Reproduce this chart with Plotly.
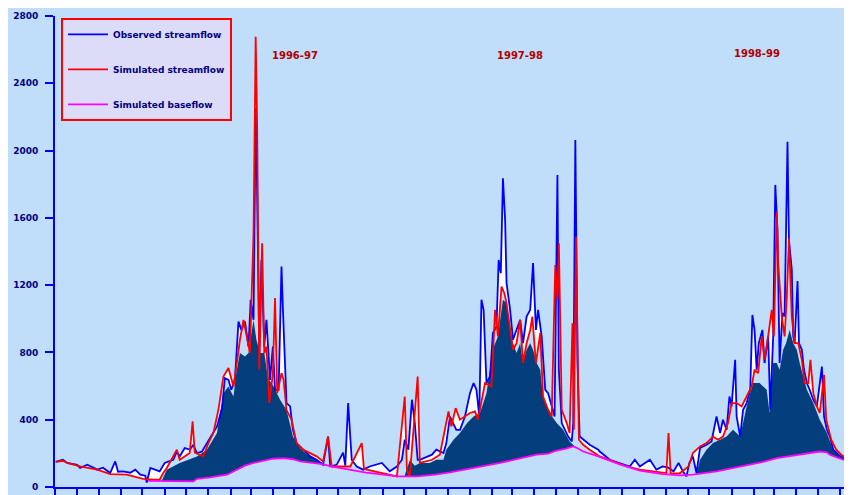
import numpy as np
import plotly.graph_objects as go

START = "1996-06-01"

# ---------------- data (day number since START, flow) ----------------
obs_day = [1, 11, 17, 31, 35, 45, 59, 67, 77, 84, 88, 95, 105, 112, 119, 126, 128, 133, 146, 153,
           165, 170, 174, 181, 188, 193, 198, 205, 212, 219, 226, 233, 237, 242, 246, 251, 256, 260,
           265, 270, 273, 277, 280, 282, 285, 288, 292, 295, 300, 304, 307, 312, 316, 318, 323, 328,
           332, 337, 346, 356, 365, 374, 381, 384, 393, 402, 405, 409, 414, 421, 430, 439, 456, 467,
           477, 484, 488, 493, 498, 502, 506, 509, 526, 532, 542, 546, 551, 556, 560, 565, 572, 579,
           584, 588, 592, 595, 598, 602, 607, 611, 616, 619, 622, 625, 628, 630, 635, 639, 644, 649,
           653, 658, 663, 667, 671, 674, 679, 684, 688, 693, 697, 701, 703, 707, 711, 716, 721, 723,
           726, 729, 732, 737, 746, 758, 760, 774, 788, 802, 809, 816, 830, 839, 848, 856, 863, 870,
           876, 881, 885, 890, 895, 900, 909, 916, 923, 928, 932, 937, 941, 944, 949, 951, 956, 960,
           965, 970, 973, 976, 979, 982, 987, 990, 995, 998, 1002, 1005, 1008, 1011, 1015, 1018, 1022,
           1024, 1028, 1030, 1032, 1036, 1038, 1042, 1045, 1049, 1053, 1058, 1063, 1066, 1070, 1073,
           1077, 1081, 1086, 1093, 1100, 1107]
obs_flow = [149, 162, 143, 132, 113, 132, 103, 115, 83, 152, 91, 93, 85, 103, 73, 67, 27, 113, 93, 143,
            162, 210, 182, 232, 222, 251, 202, 210, 261, 311, 360, 469, 647, 637, 578, 637, 984, 934,
            984, 835, 1113, 994, 2251, 1766, 798, 1350, 835, 994, 637, 835, 578, 578, 1310, 1056, 499, 479,
            340, 261, 222, 182, 162, 132, 300, 122, 132, 204, 127, 499, 162, 122, 103, 122, 143, 93,
            122, 162, 281, 222, 519, 380, 162, 162, 192, 222, 202, 261, 419, 380, 340, 340, 419, 558,
            618, 578, 419, 1113, 1053, 618, 657, 915, 954, 1350, 1271, 1835, 1588, 1212, 1053, 875, 934, 994,
            855, 1013, 1053, 1331, 934, 1053, 895, 578, 558, 479, 419, 1855, 697, 380, 340, 300, 271, 380,
            2063, 737, 300, 281, 251, 222, 211, 162, 143, 122, 162, 122, 162, 103, 122, 115, 93, 143,
            93, 63, 143, 182, 83, 232, 251, 271, 419, 321, 400, 340, 538, 479, 756, 419, 300, 459,
            499, 578, 1023, 934, 697, 855, 934, 737, 895, 459, 895, 1796, 1528, 737, 1034, 1013, 2053,
            1469, 1291, 895, 855, 1225, 855, 816, 697, 618, 578, 519, 479, 578, 716, 419,
            340, 300, 222, 192, 172, 152]

sim_day = [1, 11, 17, 35, 59, 77, 100, 123, 137, 146, 151, 156, 170, 174, 188, 192, 195, 207, 214, 221,
           228, 235, 242, 249, 253, 258, 263, 267, 272, 277, 280, 282, 285, 289, 292, 295, 299, 304,
           307, 310, 316, 319, 323, 330, 337, 346, 356, 365, 374, 381, 386, 398, 412, 428, 431, 435,
           458, 477, 488, 491, 495, 506, 509, 526, 537, 549, 553, 559, 565, 572, 579, 586, 590, 600,
           609, 614, 618, 623, 627, 630, 635, 639, 644, 649, 653, 658, 663, 666, 671, 677, 681, 688,
           693, 698, 701, 703, 707, 714, 718, 722, 724, 727, 731, 737, 746, 758, 760, 779, 798, 816,
           835, 853, 856, 859, 872, 884, 890, 900, 909, 918, 925, 932, 939, 944, 951, 958, 965, 972,
           976, 981, 986, 990, 995, 1000, 1003, 1007, 1009, 1014, 1018, 1021, 1024, 1028, 1032, 1037,
           1042, 1046, 1051, 1054, 1058, 1063, 1067, 1073, 1076, 1083, 1090, 1097, 1107]
sim_flow = [149, 156, 143, 122, 103, 77, 73, 48, 43, 43, 83, 113, 222, 162, 202, 390, 204, 182, 261, 321,
            459, 657, 707, 598, 716, 875, 994, 915, 796, 1509, 2677, 2162, 697, 1449, 796, 835, 499, 677,
            1123, 558, 677, 637, 459, 400, 261, 222, 202, 182, 152, 300, 122, 122, 122, 261, 109, 103,
            83, 63, 538, 103, 63, 657, 143, 162, 192, 449, 360, 469, 400, 419, 440, 449, 400, 618,
            598, 1053, 895, 1192, 1152, 1093, 934, 816, 855, 994, 737, 855, 934, 1013, 737, 915, 538, 459,
            419, 1320, 1113, 1449, 459, 380, 321, 974, 340, 1488, 281, 251, 222, 192, 182, 152, 122, 103,
            93, 83, 321, 79, 83, 122, 202, 241, 261, 300, 281, 300, 380, 499, 499, 479, 538, 598,
            697, 677, 895, 756, 895, 1053, 895, 1637, 1331, 1013, 895, 1132, 1479, 1013, 855, 855,
            756, 618, 618, 756, 558, 479, 440, 667, 400, 281, 222, 192, 162]

base_day = [130, 193, 198, 216, 240, 253, 265, 277, 291, 304, 319, 332, 342, 370, 391, 412, 434, 458,
            477, 505, 530, 551, 579, 603, 621, 644, 672, 688, 700, 713, 723, 728, 737, 758, 788, 816,
            848, 872, 890, 923, 949, 970, 988, 1007, 1039, 1067, 1077, 1081, 1092, 1107]
base_flow = [37, 33, 49, 57, 73, 103, 127, 143, 158, 168, 172, 165, 152, 138, 118, 103, 85, 73,
             63, 63, 73, 87, 109, 127, 143, 165, 192, 198, 217, 228, 241, 233, 211, 182, 135, 98,
             76, 69, 73, 93, 115, 132, 150, 172, 192, 211, 206, 192, 174, 152]

# dark filled (quick-flow) part of each wet season
wet_9697_day = [149, 156, 174, 198, 212, 226, 235, 242, 249, 253, 258, 265, 270, 277, 281, 286, 292,
                297, 305, 314, 323, 332, 342, 351, 360, 372, 378, 384]
wet_9697_flow = [37, 103, 143, 182, 222, 321, 558, 598, 538, 677, 796, 776, 796, 994, 875, 796, 796,
                 650, 598, 519, 459, 300, 230, 195, 172, 143, 132, 125]
wet_9798_day = [488, 495, 502, 509, 523, 532, 542, 546, 556, 565, 575, 584, 593, 602, 611, 618, 625,
                630, 635, 639, 644, 649, 653, 658, 663, 667, 672, 677, 681, 690, 700, 709, 718, 723, 726]
wet_9798_flow = [70, 160, 127, 143, 143, 162, 162, 222, 281, 321, 380, 419, 440, 558, 820, 895, 1113,
                 1093, 934, 855, 796, 855, 737, 816, 855, 816, 737, 697, 538, 440, 380, 340, 271, 251, 238]
wet_9899_day = [895, 900, 909, 918, 928, 937, 946, 956, 965, 974, 983, 993, 997, 1002, 1007, 1011, 1016,
                1020, 1025, 1030, 1035, 1039, 1049, 1058, 1067, 1077, 1086, 1095, 1103]
wet_9899_flow = [75, 162, 222, 261, 281, 300, 340, 300, 479, 618, 618, 578, 440, 737, 737, 697, 816,
                 855, 934, 855, 816, 737, 578, 499, 400, 321, 215, 180, 160]

season_labels = ["1996-97", "1997-98", "1998-99"]
y_ticks = [0, 400, 800, 1200, 1600, 2000, 2400, 2800]
series_names = ["Observed streamflow", "Simulated streamflow", "Simulated baseflow"]

# ---------------- styling ----------------
BG = "#C0DEFA"
NAVY = "#043E7D"
BLUE = "#0000FF"
RED = "#FF0000"
MAG = "#FF00FF"
TXT = "#000080"
FONT = "DejaVu Sans"


def to_dates(days):
    return np.datetime64(START) + np.array(days, dtype="timedelta64[D]")


fig = go.Figure()
# white band between simulated and observed flow
fig.add_trace(go.Scatter(x=to_dates(sim_day), y=sim_flow, mode="lines", line=dict(width=0),
                         showlegend=False, hoverinfo="skip"))
fig.add_trace(go.Scatter(x=to_dates(obs_day), y=obs_flow, mode="lines", line=dict(width=0),
                         fill="tonexty", fillcolor="white", showlegend=False, hoverinfo="skip"))
# dark navy wet-season areas
for d, v in [(wet_9697_day, wet_9697_flow), (wet_9798_day, wet_9798_flow), (wet_9899_day, wet_9899_flow)]:
    fig.add_trace(go.Scatter(x=to_dates(d), y=v, mode="lines", line=dict(width=0),
                             fill="tozeroy", fillcolor=NAVY, showlegend=False, hoverinfo="skip"))
# area below baseflow in background colour
fig.add_trace(go.Scatter(x=to_dates(base_day), y=base_flow, mode="lines", line=dict(width=0),
                         fill="tozeroy", fillcolor=BG, showlegend=False, hoverinfo="skip"))
# lines
fig.add_trace(go.Scatter(x=to_dates(obs_day), y=obs_flow, mode="lines", name=series_names[0],
                         legendgroup="a", line=dict(color=BLUE, width=1.8)))
fig.add_trace(go.Scatter(x=to_dates(sim_day), y=sim_flow, mode="lines", name=series_names[1],
                         legendgroup="b", line=dict(color=RED, width=1.8)))
fig.add_trace(go.Scatter(x=to_dates(base_day), y=base_flow, mode="lines", name=series_names[2],
                         legendgroup="c", line=dict(color=MAG, width=1.8)))

label_pos = [(0.301, 0.917), (0.583, 0.917), (0.881, 0.921)]
for lab, (xp, yp) in zip(season_labels, label_pos):
    fig.add_annotation(text=lab, x=xp, y=yp, xref="paper", yref="paper", showarrow=False,
                       xanchor="center", yanchor="middle",
                       font=dict(family=FONT, size=10, color="#B00000", weight="bold"))

# the page body has an 8 px margin, so the figure is 8 px smaller on each axis
fig.update_layout(
    width=844, height=487,
    margin=dict(l=47, r=0, t=8, b=8, autoexpand=False),
    paper_bgcolor=BG, plot_bgcolor=BG,
    showlegend=True,
    legend=dict(x=0.0075, y=0.996, xanchor="left", yanchor="top",
                bgcolor="#DCDCF8", bordercolor=RED, borderwidth=2,
                font=dict(family=FONT, size=9, color=TXT, weight="bold"),
                tracegroupgap=16, itemwidth=40),
    xaxis=dict(type="date", range=[START, "1999-06-18"], tick0=START, dtick="M1",
               ticks="outside", ticklen=8, tickcolor=BLUE, tickwidth=1.5, showticklabels=False,
               showline=True, linecolor=BLUE, linewidth=2, showgrid=False, zeroline=False),
    yaxis=dict(range=[0, 2800], tickvals=y_ticks, ticktext=[str(v) for v in y_ticks],
               ticks="outside", ticklen=8, tickcolor=BLUE, tickwidth=2,
               showline=True, linecolor=BLUE, linewidth=2, showgrid=False, zeroline=False,
               tickfont=dict(family=FONT, size=9, color=TXT, weight="bold"),
               ticklabelstandoff=5),
)

fig.write_html("out.html")
